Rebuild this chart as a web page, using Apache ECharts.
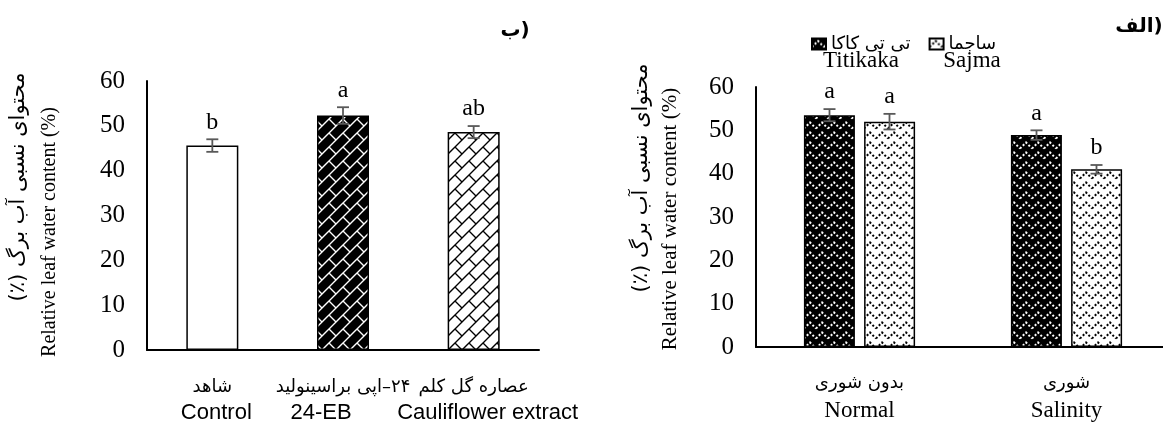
<!DOCTYPE html>
<html><head><meta charset="utf-8">
<script src="https://cdn.jsdelivr.net/npm/echarts@6/dist/echarts.min.js"></script>
<style>html,body{margin:0;padding:0;background:#fff}#c{width:1163px;height:423px}</style>
</head><body><div id="c"></div>
<script>
// ---------- data ----------
const leftCategoriesFa = ['شاهد', '\u200F۲۴–اپی براسینولید', 'عصاره گل کلم'];
const leftCategoriesEn = ['Control', '24-EB', 'Cauliflower extract'];
const leftValues  = [45.6, 52.3, 48.6];
const leftErrors  = [1.4, 1.85, 1.35];
const leftLetters = ['b', 'a', 'ab'];

const rightCategoriesFa = ['بدون شوری', 'شوری'];
const rightCategoriesEn = ['Normal', 'Salinity'];
const titikakaName = 'تی تی کاکا';
const sajmaName = 'ساجما';
const titikakaValues  = [53.5, 48.9];
const titikakaErrors  = [1.4, 1.1];
const titikakaLetters = ['a', 'a'];
const sajmaValues  = [52.0, 41.0];
const sajmaErrors  = [1.8, 1.0];
const sajmaLetters = ['a', 'b'];

const yMin = 0, yMax = 60, yInterval = 10;

const yTitleFa = 'محتوای نسبی آب برگ (٪)\u200F';
const yTitleEn = 'Relative leaf water content (%)';
const panelLeft = '\u202Aب)\u202C';
const panelRight = '\u202Aالف)\u202C';

// ---------- patterns ----------
function brick(bg, fg) {
  const s = 14;
  const c = document.createElement('canvas'); c.width = s; c.height = s;
  const g = c.getContext('2d');
  g.fillStyle = bg; g.fillRect(0, 0, s, s);
  g.strokeStyle = fg; g.lineWidth = 1.4;
  g.beginPath();
  g.moveTo(-2, s + 2); g.lineTo(s + 2, -2);
  g.moveTo(-2, 2); g.lineTo(2, -2);
  g.moveTo(s - 2, s + 2); g.lineTo(s + 2, s - 2);
  g.moveTo(s / 2, s / 2); g.lineTo(s + 1, s + 1);
  g.stroke();
  return { image: c, repeat: 'repeat' };
}
function zigzag(bg, fg) {
  const w = 12, h = 10;
  const c = document.createElement('canvas'); c.width = w; c.height = h;
  const g = c.getContext('2d');
  g.fillStyle = bg; g.fillRect(0, 0, w, h);
  g.strokeStyle = fg; g.lineWidth = 2;
  g.setLineDash([2, 2]);
  g.beginPath();
  g.moveTo(0, 8.5); g.lineTo(w / 2, 2.5); g.lineTo(w, 8.5);
  g.stroke();
  return { image: c, repeat: 'repeat' };
}
const patBlackBrick = brick('#000', '#fff');
const patWhiteBrick = brick('#fff', '#000');
const patBlackZig = zigzag('#000', '#fff');
const patWhiteZig = zigzag('#fff', '#000');

const serif = "'Liberation Serif', 'DejaVu Sans'";
const faFont = "'DejaVu Sans'";

function errorSeries(name, xi, yi, values, errors, letters, offset) {
  return {
    type: 'custom', name, xAxisIndex: xi, yAxisIndex: yi, silent: true, z: 10,
    encode: { x: 0, y: 1 },
    data: values.map((v, i) => [i, v, errors[i]]),
    renderItem(params, api) {
      const i = api.value(0), v = api.value(1), e = api.value(2);
      const top = api.coord([i, v + e]), bot = api.coord([i, v - e]);
      const x = top[0] + offset, cw = 6;
      const st = { stroke: '#595959', lineWidth: 1.8 };
      return { type: 'group', children: [
        { type: 'line', shape: { x1: x, y1: top[1], x2: x, y2: bot[1] }, style: st },
        { type: 'line', shape: { x1: x - cw, y1: top[1], x2: x + cw, y2: top[1] }, style: st },
        { type: 'line', shape: { x1: x - cw, y1: bot[1], x2: x + cw, y2: bot[1] }, style: st },
        { type: 'text', x: x, y: top[1] - 5, style: { text: letters[params.dataIndex], fill: '#000',
          font: "24px 'Liberation Serif'", textAlign: 'center', textVerticalAlign: 'bottom' } }
      ]};
    }
  };
}

function yAxisDef(gi) {
  return {
    type: 'value', gridIndex: gi, min: yMin, max: yMax, interval: yInterval,
    axisLine: { show: true, lineStyle: { color: '#000', width: 2 } },
    axisTick: { show: false }, splitLine: { show: false },
    axisLabel: { color: '#000', fontSize: 25, fontFamily: serif, margin: 22 }
  };
}

const enFontL = { fontSize: 22, fontFamily: "'Liberation Sans'", lineHeight: 26 };
const chart = echarts.init(document.getElementById('c'));
chart.setOption({
  animation: false,
  backgroundColor: '#fff',
  grid: [
    { left: 147, top: 81, width: 392, height: 269, containLabel: false, outerBoundsMode: 'none' },
    { left: 756, top: 87, width: 414, height: 260, containLabel: false, outerBoundsMode: 'none' }
  ],
  legend: {
    data: [titikakaName, sajmaName], left: 806, top: 30,
    itemWidth: 14, itemHeight: 11, itemGap: 18, icon: 'rect',
    textStyle: { fontSize: 18, fontFamily: faFont, color: '#000' }
  },
  xAxis: [
    { type: 'category', gridIndex: 0, data: leftCategoriesEn,
      axisLine: { lineStyle: { color: '#000', width: 2 } }, axisTick: { show: false },
      axisLabel: { interval: 0, margin: 24, color: '#000',
        formatter: (v, i) => '{fa|' + leftCategoriesFa[i] + '}\n{en' + i + '|' + v + '}',
        rich: { fa: { fontSize: 18, fontFamily: faFont, lineHeight: 26 },
                en0: Object.assign({ padding: [0, 0, 0, 8] }, enFontL),
                en1: Object.assign({ padding: [0, 44, 0, 0] }, enFontL),
                en2: Object.assign({ padding: [0, 0, 0, 28] }, enFontL) } } },
    { type: 'category', gridIndex: 1, data: rightCategoriesEn,
      axisLine: { lineStyle: { color: '#000', width: 2 } }, axisTick: { show: false },
      axisLabel: { interval: 0, margin: 23, color: '#000',
        formatter: (v, i) => '{fa|' + rightCategoriesFa[i] + '}\n{en|' + v + '}',
        rich: { fa: { fontSize: 18, fontFamily: faFont, lineHeight: 27 },
                en: { fontSize: 23, fontFamily: serif, lineHeight: 27 } } } }
  ],
  yAxis: [yAxisDef(0), yAxisDef(1)],
  graphic: [
    { type: 'text', x: 19, y: 187, rotation: Math.PI / 2,
      style: { text: yTitleFa, font: "21px 'DejaVu Sans'", fill: '#000', textAlign: 'center', textVerticalAlign: 'middle' } },
    { type: 'text', x: 50, y: 232, rotation: Math.PI / 2,
      style: { text: yTitleEn, font: "20px 'Liberation Serif'", fill: '#000', textAlign: 'center', textVerticalAlign: 'middle' } },
    { type: 'text', x: 642, y: 178, rotation: Math.PI / 2,
      style: { text: yTitleFa, font: "21px 'DejaVu Sans'", fill: '#000', textAlign: 'center', textVerticalAlign: 'middle' } },
    { type: 'text', x: 670, y: 219, rotation: Math.PI / 2,
      style: { text: yTitleEn, font: "21px 'Liberation Serif'", fill: '#000', textAlign: 'center', textVerticalAlign: 'middle' } },
    { type: 'text', x: 861, y: 61,
      style: { text: 'Titikaka', font: "23px 'Liberation Serif'", fill: '#000', textAlign: 'center', textVerticalAlign: 'middle' } },
    { type: 'text', x: 972, y: 61,
      style: { text: 'Sajma', font: "23px 'Liberation Serif'", fill: '#000', textAlign: 'center', textVerticalAlign: 'middle' } },
    { type: 'text', x: 515, y: 31,
      style: { text: panelLeft, font: "bold 20px 'DejaVu Sans'", fill: '#000', textAlign: 'center', textVerticalAlign: 'middle' } },
    { type: 'text', x: 1139, y: 27,
      style: { text: panelRight, font: "bold 20px 'DejaVu Sans'", fill: '#000', textAlign: 'center', textVerticalAlign: 'middle' } }
  ],
  series: [
    { type: 'bar', xAxisIndex: 0, yAxisIndex: 0, barWidth: 52,
      data: leftValues.map((v, i) => ({ value: v, itemStyle: { color: [ '#fff', patBlackBrick, patWhiteBrick ][i] } })),
      itemStyle: { borderColor: '#000', borderWidth: 1.5 } },
    errorSeries('errL', 0, 0, leftValues, leftErrors, leftLetters, 0),
    { type: 'bar', name: titikakaName, xAxisIndex: 1, yAxisIndex: 1, barWidth: 51, barGap: '18%',
      data: titikakaValues, itemStyle: { color: patBlackZig, borderColor: '#000', borderWidth: 1.5 } },
    { type: 'bar', name: sajmaName, xAxisIndex: 1, yAxisIndex: 1, barWidth: 51, barGap: '18%',
      data: sajmaValues, itemStyle: { color: patWhiteZig, borderColor: '#000', borderWidth: 1.5 } },
    errorSeries('errT', 1, 1, titikakaValues, titikakaErrors, titikakaLetters, -30),
    errorSeries('errS', 1, 1, sajmaValues, sajmaErrors, sajmaLetters, 30)
  ]
});
</script></body></html>
